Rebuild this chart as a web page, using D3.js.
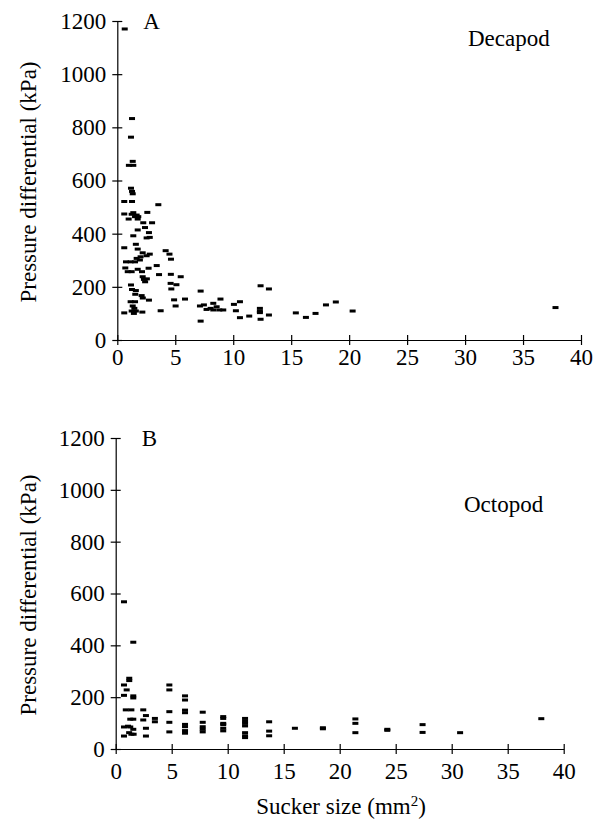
<!DOCTYPE html>
<html>
<head>
<meta charset="utf-8">
<script src="https://cdn.jsdelivr.net/npm/d3@7"></script>
<style>
  body { margin: 0; background: #fff; }
  text { font-family: "Liberation Serif", "Times New Roman", serif; fill: #000; }
</style>
</head>
<body>
<svg width="604" height="820"></svg>
<script>
const xTicks = [0, 5, 10, 15, 20, 25, 30, 35, 40];
const yTicks = [0, 200, 400, 600, 800, 1000, 1200];

// Panel A: decapod suckers (mm2, kPa)
const decapodSize = [0.64, 1.27, 1.18, 1.33, 1.0, 1.38, 1.18, 1.27, 1.33, 0.6, 1.27, 3.54, 0.6, 1.38, 1.67,
  1.24, 1.53, 1.81, 2.59, 0.98, 1.76, 2.24, 3.0, 1.76, 2.39, 2.73, 1.38, 2.53, 2.8, 0.6, 1.6, 1.76, 2.19,
  2.8, 2.53, 4.17, 4.5, 4.63, 0.75, 1.15, 1.53, 1.95, 1.67, 2.01, 3.4, 0.69, 0.9, 1.24, 1.76, 2.13, 2.7,
  3.6, 4.62, 5.47, 2.19, 2.3, 2.55, 2.4, 1.18, 4.6, 5.1, 4.66, 1.27, 1.6, 1.55, 2.1, 2.2, 2.73, 4.9, 5.84,
  5.03, 3.74, 0.6, 1.15, 1.53, 1.33, 1.47, 1.24, 1.6, 1.43, 2.16, 7.19, 7.19, 7.13, 7.47, 7.7, 8.05, 8.28,
  8.9, 8.57, 8.8, 9.14, 8.28, 10.06, 10.58, 10.23, 10.58, 11.38, 12.36, 13.08, 12.3, 12.3, 12.3, 12.36,
  13.08, 15.4, 16.27, 17.1, 18.0, 18.85, 20.3, 37.8];
const decapodPressure = [1170, 833, 763, 672, 657, 657, 571, 559, 550, 521, 521, 509, 474, 479, 470,
  473, 464, 464, 480, 455, 455, 441, 441, 414, 423, 404, 392, 384, 386, 347, 360, 342, 328,
  323, 317, 336, 323, 304, 294, 294, 294, 301, 307, 313, 280, 271, 257, 257, 266, 257, 270,
  246, 247, 238, 238, 228, 230, 219, 207, 213, 208, 192, 190, 186, 172, 167, 158, 150, 151, 154,
  128, 110, 102, 144, 144, 128, 119, 109, 109, 100, 105, 184, 71, 128, 132, 115, 119, 138,
  154, 125, 113, 113, 113, 134, 144, 110, 84, 90, 204, 192, 119, 108, 103, 78,
  94, 102, 85, 100, 132, 143, 109, 122];

// Panel B: octopod suckers (mm2, kPa)
const octopodSize = [0.74, 1.57, 1.21, 1.21, 0.74, 0.98, 0.74, 1.57, 1.57, 0.9, 1.4, 2.46, 2.7, 1.3, 1.57,
  2.46, 3.5, 3.5, 0.74, 1.1, 1.3, 1.57, 2.7, 1.2, 0.74, 1.4, 1.6, 2.7,
  4.79, 4.79, 4.79, 4.79, 4.79, 6.19, 6.19, 6.19, 6.19, 6.19, 6.19, 6.19, 6.19,
  7.77, 7.77, 7.77, 7.77, 7.77, 9.6, 9.6, 9.6, 9.6, 9.6, 9.6,
  11.55, 11.55, 11.55, 11.55, 11.55, 11.55, 11.55, 13.7, 13.7, 13.7,
  16.0, 18.5, 18.5, 21.4, 21.4, 21.4, 24.25, 24.25, 27.4, 27.4, 30.75, 38.0];
const octopodPressure = [568, 412, 273, 264, 247, 228, 207, 205, 197, 151, 151, 151, 129, 115, 115,
  112, 118, 105, 85, 88, 85, 76, 80, 63, 50, 57, 57, 50,
  247, 228, 144, 103, 66, 205, 189, 150, 140, 95, 86, 71, 61,
  142, 103, 86, 76, 66, 125, 118, 99, 94, 80, 70,
  118, 108, 99, 89, 63, 51, 44, 105, 69, 51,
  80, 78, 82, 116, 99, 63, 76, 72, 94, 64, 63, 117];

const svg = d3.select("svg");
const serif = "'Liberation Serif', 'Times New Roman', serif";

const panels = [
  { sizes: decapodSize, pressures: decapodPressure, letter: "A", name: "Decapod",
    left: 117.3, right: 581, top: 21, bottom: 340, nameX: 468, nameY: 46, xLabelY: 25, titleY: 182 },
  { sizes: octopodSize, pressures: octopodPressure, letter: "B", name: "Octopod",
    left: 115.7, right: 563.7, top: 438, bottom: 749, nameX: 464, nameY: 512, xLabelY: 30, titleY: 595 }
];

panels.forEach(p => {
  const x = d3.scaleLinear().domain([0, 40]).range([p.left, p.right]);
  const y = d3.scaleLinear().domain([0, 1200]).range([p.bottom, p.top]);

  const xAxis = svg.append("g")
    .attr("transform", `translate(0,${p.bottom})`)
    .call(d3.axisBottom(x).tickValues(xTicks).tickFormat(d3.format("d")).tickSize(5).tickSizeOuter(0));
  xAxis.selectAll(".tick line").attr("y1", -5).attr("y2", 5);
  xAxis.selectAll(".tick text").attr("y", p.xLabelY).attr("dy", 0);

  const yAxis = svg.append("g")
    .attr("transform", `translate(${p.left},0)`)
    .call(d3.axisLeft(y).tickValues(yTicks).tickFormat(d3.format("d")).tickSize(5).tickSizeOuter(0));
  yAxis.selectAll(".tick line").attr("x1", -5).attr("x2", 5);
  yAxis.selectAll(".tick text").attr("x", -11);

  [xAxis, yAxis].forEach(a => {
    a.attr("font-family", serif).attr("font-size", 23);
    a.select(".domain").attr("stroke", "#000").attr("stroke-width", 1.2);
    a.selectAll(".tick line").attr("stroke", "#000").attr("stroke-width", 1.2);
    a.selectAll(".tick text").style("font-size", "23px")
      .style("font-family", serif).attr("fill", "#000");
  });

  svg.append("g")
    .selectAll("rect")
    .data(p.sizes.map((s, i) => [s, p.pressures[i]]))
    .join("rect")
    .attr("x", d => x(d[0]) - 3)
    .attr("y", d => y(d[1]) - 1.5)
    .attr("width", 6)
    .attr("height", 3)
    .attr("fill", "#000");

  svg.append("text")
    .attr("x", x(0) + 26)
    .attr("y", y(1200) + 8)
    .style("font-size", "23px")
    .text(p.letter);

  svg.append("text")
    .attr("x", p.nameX)
    .attr("y", p.nameY)
    .style("font-size", "23px")
    .text(p.name);

  svg.append("text")
    .attr("transform", `translate(36,${p.titleY}) rotate(-90)`)
    .attr("text-anchor", "middle")
    .style("font-size", "23px")
    .text("Pressure differential (kPa)");
});

const xTitle = svg.append("text")
  .attr("x", 341)
  .attr("y", 814)
  .attr("text-anchor", "middle")
  .style("font-size", "23px");
xTitle.append("tspan").text("Sucker size (mm");
xTitle.append("tspan").attr("dy", -8).style("font-size", "15px").text("2");
xTitle.append("tspan").attr("dy", 8).text(")");
</script>
</body>
</html>
